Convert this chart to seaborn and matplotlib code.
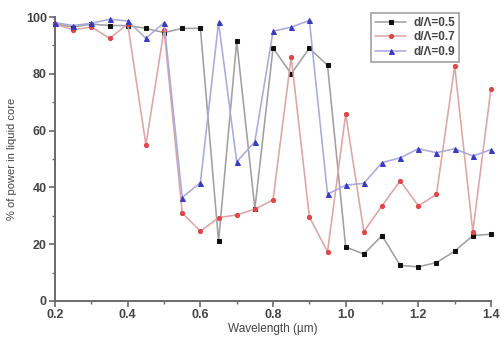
import numpy as np
import pandas as pd
import seaborn as sns
import matplotlib
matplotlib.use("Agg")
import matplotlib.pyplot as plt
from matplotlib.ticker import MultipleLocator

wavelength = [0.20, 0.25, 0.30, 0.35, 0.40, 0.45, 0.50, 0.55, 0.60, 0.65, 0.70, 0.75, 0.80,
              0.85, 0.90, 0.95, 1.00, 1.05, 1.10, 1.15, 1.20, 1.25, 1.30, 1.35, 1.40]

power_05 = [97.5, 96.5, 97.5, 97.0, 97.0, 96.0, 94.5, 96.0, 96.0, 21.0, 91.5, 32.5, 89.0,
            80.0, 89.0, 83.0, 19.0, 16.5, 23.0, 12.5, 12.0, 13.5, 17.5, 23.0, 23.5]
power_07 = [97.5, 95.5, 96.5, 92.5, 97.5, 55.0, 95.5, 31.0, 24.5, 29.3, 30.3, 32.3, 35.6,
            86.0, 29.6, 17.3, 65.8, 24.4, 33.5, 42.3, 33.5, 37.5, 82.7, 24.4, 74.8]
power_09 = [98.0, 97.0, 97.8, 99.2, 98.6, 92.5, 98.0, 36.4, 41.7, 98.1, 49.0, 56.1, 95.0,
            96.4, 98.8, 37.6, 40.8, 41.4, 48.7, 50.4, 53.6, 52.2, 53.6, 51.0, 53.3]

labels = ["d/\u039b=0.5", "d/\u039b=0.7", "d/\u039b=0.9"]
x_ticks = [0.2, 0.4, 0.6, 0.8, 1.0, 1.2, 1.4]
x_ticklabels = ["0.2", "0.4", "0.6", "0.8", "1.0", "1.2", "1.4"]
y_ticks = [0, 20, 40, 60, 80, 100]

sns.set_theme(style="ticks")
plt.rcParams['font.family'] = ['Liberation Sans', 'DejaVu Sans']

fig = plt.figure(figsize=(5.01, 3.40), dpi=100)
ax = fig.add_axes([0.11, 0.115, 0.87, 0.835])

styles = [
    dict(line="#a0a0a0", mk="s", mfc="#111111", ms=2.8),
    dict(line="#dba6a6", mk="o", mfc="#e04848", ms=3.0),
    dict(line="#aaaadb", mk="^", mfc="#3a3ac0", ms=3.6),
]
for vals, lab, st in zip([power_05, power_07, power_09], labels, styles):
    df = pd.DataFrame({"x": wavelength, "y": vals})
    sns.lineplot(data=df, x="x", y="y", ax=ax, color=st["line"], lw=1.15,
                 marker=st["mk"], markersize=st["ms"], markerfacecolor=st["mfc"],
                 markeredgecolor=st["mfc"], label=lab, clip_on=False, zorder=3)

ax.set_xlim(0.2, 1.4)
ax.set_ylim(0, 100)
ax.set_xticks(x_ticks)
ax.set_xticklabels(x_ticklabels)
ax.set_yticks(y_ticks)
ax.xaxis.set_minor_locator(MultipleLocator(0.1))
ax.yaxis.set_minor_locator(MultipleLocator(10))

for side in ["top", "right"]:
    ax.spines[side].set_visible(False)
for side in ["left", "bottom"]:
    ax.spines[side].set_color("#6a6a6a")
    ax.spines[side].set_linewidth(1.4)

ax.tick_params(axis="both", which="major", length=4, width=1.2, color="#6a6a6a",
               labelsize=9, labelcolor="#444444", pad=2)
ax.tick_params(axis="both", which="minor", length=2.5, width=1.0, color="#6a6a6a")
for t in ax.get_xticklabels() + ax.get_yticklabels():
    t.set_fontweight("bold")

ax.set_xlabel("Wavelength (\u00b5m)", fontsize=8.5, color="#444444", labelpad=1)
ax.set_ylabel("% of power in liquid core", fontsize=8, color="#444444", labelpad=6)

leg = ax.legend(loc="upper right", bbox_to_anchor=(0.94, 1.035), frameon=True, fancybox=False,
                fontsize=8.5, handlelength=2.6, handletextpad=0.6, borderpad=0.35,
                labelspacing=0.2, edgecolor="#8a8a8a")
leg.get_frame().set_linewidth(1.2)
for t in leg.get_texts():
    t.set_fontweight("bold")
    t.set_color("#444444")

fig.savefig("out.png", dpi=100)
